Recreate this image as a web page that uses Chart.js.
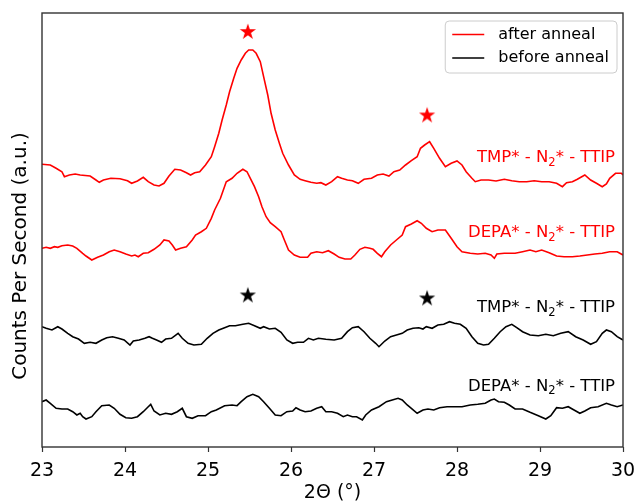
<!DOCTYPE html>
<html>
<head>
<meta charset="utf-8">
<script src="https://cdn.jsdelivr.net/npm/chart.js@4.4.1/dist/chart.umd.min.js"></script>
<style>
  html, body { margin: 0; padding: 0; background: #ffffff; }
  #wrap { width: 639px; height: 504px; }
</style>
</head>
<body>
<div id="wrap"><canvas id="xrd" width="639" height="504"></canvas></div>
<script>
// XRD scans, [2θ (°), counts] — each trace already carries its vertical offset.
const tmpAfter = [
  [23.00,282.7],[23.10,282.0],[23.17,278.7],[23.24,275.3],[23.27,270.3],[23.33,272.0],[23.40,273.0],[23.46,272.0],
  [23.58,271.0],[23.65,267.0],[23.69,264.7],[23.74,267.0],[23.83,268.7],[23.94,268.3],[24.03,266.3],[24.08,263.7],
  [24.15,266.0],[24.22,269.7],[24.28,265.3],[24.35,262.0],[24.41,261.0],[24.47,263.7],[24.53,271.0],[24.60,277.7],
  [24.67,277.0],[24.74,274.3],[24.79,272.0],[24.84,274.3],[24.90,275.3],[24.97,282.0],[25.04,290.3],[25.08,300.3],
  [25.13,313.7],[25.17,327.0],[25.22,342.0],[25.26,355.3],[25.31,368.7],[25.35,378.7],[25.40,387.0],[25.45,393.7],
  [25.49,397.0],[25.54,397.0],[25.58,393.7],[25.63,385.3],[25.67,370.3],[25.72,352.0],[25.76,333.7],[25.81,317.0],
  [25.86,303.7],[25.90,293.7],[25.97,282.0],[26.04,272.0],[26.11,267.7],[26.17,266.3],[26.24,264.7],[26.31,263.7],
  [26.36,264.3],[26.42,262.0],[26.49,265.3],[26.56,270.3],[26.61,268.7],[26.68,267.0],[26.74,266.3],[26.81,263.7],
  [26.88,267.7],[26.97,268.7],[27.04,272.0],[27.11,273.0],[27.18,271.0],[27.24,275.3],[27.31,277.0],[27.38,282.0],
  [27.45,286.3],[27.52,290.3],[27.56,298.7],[27.61,302.0],[27.67,305.3],[27.72,298.7],[27.79,288.7],[27.86,280.3],
  [27.93,283.7],[28.00,286.0],[28.06,282.0],[28.11,275.3],[28.18,268.7],[28.22,265.3],[28.29,267.0],[28.38,267.0],
  [28.47,266.0],[28.57,267.7],[28.66,266.3],[28.75,265.3],[28.84,265.3],[28.93,266.3],[29.02,265.3],[29.11,265.3],
  [29.20,263.7],[29.27,260.3],[29.32,264.3],[29.39,265.3],[29.45,267.7],[29.54,272.0],[29.61,267.0],[29.68,263.7],
  [29.75,260.3],[29.80,263.0],[29.84,268.7],[29.91,273.7],[29.98,273.7],[30.00,272.0]
];

const depaAfter = [
  [23.00,198.7],[23.05,199.7],[23.10,198.7],[23.15,200.3],[23.19,199.7],[23.24,201.3],[23.31,202.0],[23.37,201.0],
  [23.42,198.7],[23.49,193.7],[23.53,191.0],[23.60,187.0],[23.67,189.7],[23.74,192.0],[23.81,195.3],[23.87,197.0],
  [23.94,195.3],[24.01,193.0],[24.08,191.0],[24.12,192.0],[24.16,190.3],[24.22,193.7],[24.28,194.3],[24.35,197.7],
  [24.42,202.0],[24.47,207.0],[24.53,206.0],[24.57,202.0],[24.61,197.0],[24.67,198.7],[24.74,200.3],[24.81,207.0],
  [24.85,212.0],[24.92,215.3],[24.98,218.7],[25.04,228.7],[25.08,237.0],[25.15,248.7],[25.22,265.3],[25.29,268.7],
  [25.35,273.7],[25.42,277.7],[25.47,275.3],[25.51,268.7],[25.56,260.3],[25.61,250.3],[25.65,240.3],[25.70,230.3],
  [25.75,224.3],[25.81,220.3],[25.88,215.3],[25.92,207.0],[25.97,197.0],[26.04,192.0],[26.11,189.7],[26.20,189.7],
  [26.24,193.7],[26.31,195.3],[26.38,194.3],[26.45,196.3],[26.52,193.0],[26.58,189.7],[26.65,188.0],[26.72,188.0],
  [26.77,192.0],[26.83,197.7],[26.89,199.7],[26.95,198.7],[26.99,197.7],[27.04,193.7],[27.09,190.3],[27.13,195.3],
  [27.20,202.0],[27.27,207.0],[27.34,212.0],[27.38,220.3],[27.45,223.0],[27.52,226.3],[27.57,223.7],[27.63,218.7],
  [27.70,215.3],[27.77,217.0],[27.86,217.0],[27.93,208.7],[28.00,200.3],[28.06,195.3],[28.16,193.7],[28.25,193.0],
  [28.34,193.7],[28.41,192.0],[28.45,188.7],[28.48,193.0],[28.57,193.7],[28.70,193.7],[28.79,195.3],[28.88,197.0],
  [28.95,195.3],[29.02,197.0],[29.11,194.3],[29.20,191.0],[29.29,190.3],[29.39,190.3],[29.48,191.0],[29.57,192.0],
  [29.66,193.0],[29.75,193.7],[29.84,195.3],[29.93,195.3],[30.00,192.0]
];

const tmpBefore = [
  [23.00,120.3],[23.05,118.7],[23.12,117.0],[23.19,120.3],[23.24,118.0],[23.31,113.7],[23.37,110.3],[23.44,108.0],
  [23.51,103.7],[23.58,104.7],[23.65,103.7],[23.72,107.0],[23.78,109.3],[23.85,110.3],[23.92,108.7],[23.99,107.0],
  [24.06,102.0],[24.10,106.0],[24.17,107.0],[24.24,108.7],[24.29,110.3],[24.33,108.7],[24.38,107.0],[24.44,104.7],
  [24.49,108.0],[24.56,108.7],[24.64,113.7],[24.69,108.7],[24.76,103.7],[24.83,102.0],[24.92,102.7],[24.99,108.7],
  [25.06,113.7],[25.13,117.0],[25.20,119.3],[25.26,121.3],[25.33,121.3],[25.42,122.7],[25.49,123.7],[25.56,121.3],
  [25.63,118.7],[25.67,120.3],[25.74,118.0],[25.81,118.7],[25.88,114.7],[25.95,107.0],[26.02,103.7],[26.08,104.7],
  [26.15,104.7],[26.21,108.7],[26.27,107.0],[26.33,108.7],[26.42,107.7],[26.52,107.0],[26.61,108.7],[26.68,115.3],
  [26.74,119.3],[26.81,120.3],[26.88,115.3],[26.95,108.7],[27.02,103.7],[27.06,100.3],[27.13,106.0],[27.20,110.3],
  [27.27,112.0],[27.34,113.7],[27.40,117.0],[27.47,118.7],[27.54,119.3],[27.59,118.0],[27.63,120.3],[27.70,118.7],
  [27.77,122.0],[27.84,122.7],[27.91,125.3],[27.97,123.7],[28.04,122.7],[28.11,118.7],[28.18,110.3],[28.25,103.7],
  [28.32,102.0],[28.38,102.7],[28.45,108.7],[28.52,115.3],[28.59,120.3],[28.66,122.7],[28.72,119.3],[28.79,115.3],
  [28.88,112.0],[28.98,111.3],[29.07,112.7],[29.16,111.3],[29.25,113.7],[29.34,115.3],[29.43,110.3],[29.52,107.0],
  [29.61,102.7],[29.68,105.3],[29.75,113.7],[29.80,117.0],[29.86,115.3],[29.93,110.3],[30.00,107.0]
];

const depaBefore = [
  [23.00,45.3],[23.05,47.0],[23.10,43.7],[23.17,38.7],[23.24,38.0],[23.31,38.0],[23.37,35.3],[23.42,32.0],
  [23.46,33.7],[23.49,30.3],[23.53,28.0],[23.60,30.3],[23.65,35.3],[23.72,41.3],[23.81,42.0],[23.87,38.7],
  [23.94,32.7],[24.01,29.3],[24.08,28.7],[24.15,30.3],[24.22,35.3],[24.28,40.3],[24.31,42.7],[24.35,36.0],
  [24.42,32.0],[24.49,33.7],[24.56,32.7],[24.63,35.3],[24.69,38.7],[24.74,30.3],[24.81,28.7],[24.88,31.3],
  [24.97,31.3],[25.04,35.3],[25.10,37.0],[25.20,41.3],[25.29,42.0],[25.35,41.3],[25.40,45.3],[25.47,50.3],
  [25.54,52.7],[25.61,50.3],[25.67,45.3],[25.74,38.7],[25.81,32.0],[25.88,31.3],[25.95,35.3],[26.02,36.0],
  [26.06,39.3],[26.11,37.0],[26.17,35.3],[26.24,36.0],[26.31,38.7],[26.37,40.3],[26.42,35.3],[26.49,35.3],
  [26.56,33.7],[26.63,30.3],[26.68,32.0],[26.74,30.3],[26.79,30.3],[26.86,27.0],[26.90,32.0],[26.97,37.0],
  [27.06,40.3],[27.15,45.3],[27.22,47.0],[27.29,48.7],[27.34,47.0],[27.40,42.0],[27.45,38.7],[27.52,33.7],
  [27.59,37.0],[27.65,38.0],[27.72,37.0],[27.79,39.3],[27.88,40.3],[27.97,40.3],[28.06,40.3],[28.16,42.0],
  [28.25,42.7],[28.34,43.7],[28.41,47.0],[28.45,48.0],[28.50,45.3],[28.57,44.7],[28.63,42.0],[28.70,38.0],
  [28.79,38.0],[28.88,34.7],[28.98,31.3],[29.07,28.0],[29.13,31.3],[29.20,39.3],[29.27,38.7],[29.34,40.3],
  [29.41,37.0],[29.48,33.7],[29.54,36.0],[29.61,39.3],[29.70,40.3],[29.80,43.7],[29.86,42.0],[29.93,40.3],
  [30.00,42.0]
];

// Reflection markers (2θ) and the heights of the stars above each pair of traces
const peakAngles = [25.48, 27.64];
const afterStarCounts = [415, 331.5];
const beforeStarCounts = [151.5, 148.5];

// Legend entries and precursor names used in the trace labels
const seriesNames = ['after anneal', 'before anneal'];
const precursors = ['TMP', 'DEPA'];
const xTicks = [23, 24, 25, 26, 27, 28, 29, 30];

const RED = '#ff0000';
const BLACK = '#000000';
const FONT = "'DejaVu Sans', 'Liberation Sans', sans-serif";
const Y_TITLE = 'Counts Per Second (a.u.)';

const toPoints = arr => arr.map(([x, y]) => ({ x, y }));

function starImage(color) {
  const size = 20, R = 8.5, r = R * 0.382;
  const c = document.createElement('canvas');
  c.width = size; c.height = size;
  const g = c.getContext('2d');
  g.fillStyle = color;
  g.beginPath();
  for (let i = 0; i < 10; i++) {
    const a = -Math.PI / 2 + i * Math.PI / 5;
    const rad = i % 2 ? r : R;
    g.lineTo(size / 2 + rad * Math.cos(a), size / 2 + rad * Math.sin(a));
  }
  g.closePath();
  g.fill();
  return c;
}

const traceStyle = color => ({
  borderColor: color, backgroundColor: color, borderWidth: 1.6,
  pointRadius: 0, tension: 0, fill: false
});

const starStyle = color => ({
  showLine: false, pointStyle: starImage(color), pointRadius: 9,
  borderColor: color, backgroundColor: color
});

// Text beside each trace: [precursor index, colour, cap-centre counts]
const traceLabels = [
  { who: 0, color: RED,   y: 291 },
  { who: 1, color: RED,   y: 216 },
  { who: 0, color: BLACK, y: 141 },
  { who: 1, color: BLACK, y: 62.5 }
];
const labelRightAngle = 29.904;

function drawRich(ctx, parts, right, baseline, size, color) {
  const subSize = size * 0.7;
  let total = 0;
  parts.forEach(p => {
    ctx.font = `${p.sub ? subSize : size}px ${FONT}`;
    total += ctx.measureText(p.t).width;
  });
  let x = right - total;
  ctx.fillStyle = color;
  ctx.textAlign = 'left';
  ctx.textBaseline = 'alphabetic';
  parts.forEach(p => {
    ctx.font = `${p.sub ? subSize : size}px ${FONT}`;
    ctx.fillText(p.t, x, baseline + (p.sub ? size * 0.22 : 0));
    x += ctx.measureText(p.t).width;
  });
}

const decor = {
  id: 'decor',
  afterDatasetsDraw(chart) {
    const { ctx, chartArea: a, scales: { x, y } } = chart;
    ctx.save();

    // axes frame
    ctx.strokeStyle = '#333333';
    ctx.lineWidth = 1.4;
    ctx.strokeRect(a.left, a.top, a.right - a.left, a.bottom - a.top);

    // vertical axis title, sitting a little below the axis middle
    ctx.save();
    ctx.translate(21, (a.top + a.bottom) / 2 + 26);
    ctx.rotate(-Math.PI / 2);
    ctx.font = `20px ${FONT}`;
    ctx.fillStyle = '#000';
    ctx.textAlign = 'center';
    ctx.textBaseline = 'middle';
    ctx.fillText(Y_TITLE, 0, 0);
    ctx.restore();

    // trace labels
    const fs = 16.5;
    traceLabels.forEach(l => {
      const parts = [{ t: precursors[l.who] + '* - N' }, { t: '2', sub: true }, { t: '* - TTIP' }];
      drawRich(ctx, parts, x.getPixelForValue(labelRightAngle), y.getPixelForValue(l.y) + fs * 0.365, fs, l.color);
    });

    // legend
    const lf = 16;
    ctx.font = `${lf}px ${FONT}`;
    const textW = Math.max(...seriesNames.map(s => ctx.measureText(s).width));
    const bw = 54 + textW + 7, bh = 52;
    const bx = a.right - 6 - bw, by = a.top + 8;
    ctx.beginPath();
    ctx.roundRect(bx, by, bw, bh, 4);
    ctx.fillStyle = 'rgba(255,255,255,0.8)';
    ctx.fill();
    ctx.strokeStyle = '#cccccc';
    ctx.lineWidth = 1;
    ctx.stroke();
    [RED, BLACK].forEach((c, i) => {
      const yy = by + 13.5 + i * 23.5;
      ctx.strokeStyle = c;
      ctx.lineWidth = 1.6;
      ctx.beginPath();
      ctx.moveTo(bx + 7, yy);
      ctx.lineTo(bx + 39, yy);
      ctx.stroke();
      ctx.fillStyle = '#000';
      ctx.textAlign = 'left';
      ctx.textBaseline = 'middle';
      ctx.fillText(seriesNames[i], bx + 53, yy);
    });
    ctx.restore();
  }
};

new Chart(document.getElementById('xrd'), {
  type: 'line',
  data: {
    datasets: [
      { label: 'TMP after', data: toPoints(tmpAfter), ...traceStyle(RED) },
      { label: 'DEPA after', data: toPoints(depaAfter), ...traceStyle(RED) },
      { label: 'TMP before', data: toPoints(tmpBefore), ...traceStyle(BLACK) },
      { label: 'DEPA before', data: toPoints(depaBefore), ...traceStyle(BLACK) },
      { label: 'after peaks', data: peakAngles.map((p, i) => ({ x: p, y: afterStarCounts[i] })), ...starStyle(RED) },
      { label: 'before peaks', data: peakAngles.map((p, i) => ({ x: p, y: beforeStarCounts[i] })), ...starStyle(BLACK) }
    ]
  },
  options: {
    responsive: false,
    animation: false,
    devicePixelRatio: 1,
    layout: { padding: { top: 13, right: 16, left: 0, bottom: 0 } },
    plugins: { legend: { display: false }, tooltip: { enabled: false } },
    scales: {
      x: {
        type: 'linear', min: 23, max: 30,
        afterBuildTicks: s => { s.ticks = xTicks.map(v => ({ value: v })); },
        ticks: { color: '#000', font: { family: FONT, size: 19 }, padding: 8, maxRotation: 0 },
        grid: { display: true, drawOnChartArea: false, drawTicks: true, tickLength: 5, tickWidth: 1.2, tickColor: '#333' },
        border: { display: false },
        title: { display: true, text: '2Θ (°)', color: '#000', font: { family: FONT, size: 19 }, padding: { top: 0, bottom: 0 } },
        afterFit: s => { s.height = 57; s.paddingLeft = 0; s.paddingRight = 0; }
      },
      y: {
        type: 'linear', min: 0, max: 434,
        ticks: { display: false },
        grid: { display: false },
        border: { display: false },
        title: { display: false },
        afterFit: s => { s.width = 42; s.paddingTop = 0; s.paddingBottom = 0; }
      }
    }
  },
  plugins: [decor]
});
</script>
</body>
</html>
